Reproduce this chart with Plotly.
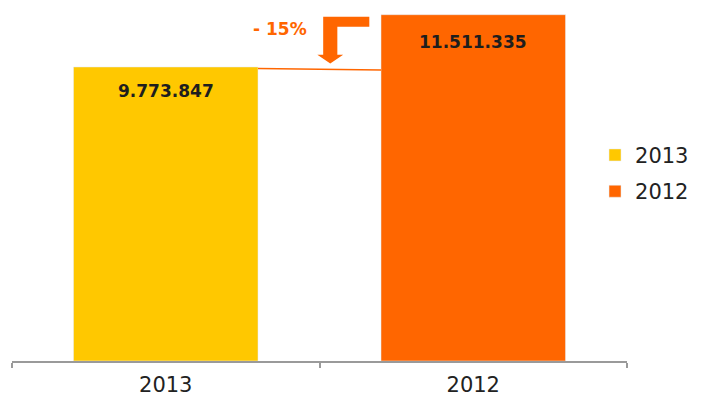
import plotly.graph_objects as go

# Sales volume by year
years = ["2013", "2012"]
values = [9773847, 11511335]
colors = ["#FFC800", "#FF6600"]

AXIS_MAX = 12.0e6
ACCENT = "#FF6600"


def fmt_dots(v):
    return f"{v:,}".replace(",", ".")


fig = go.Figure()
for yr, val, col in zip(years, values, colors):
    fig.add_trace(go.Bar(
        x=[yr], y=[val], name=yr, marker_color=col, width=0.6,
        legendgroup=yr, hoverinfo="skip",
    ))

# value labels just under the top of each bar
annotations = []
for i, (yr, val) in enumerate(zip(years, values)):
    annotations.append(dict(
        x=i, y=val, xref="x", yref="y", text=fmt_dots(val),
        showarrow=False, yshift=-24 if i == 0 else -27, yanchor="middle",
        font=dict(family="DejaVu Sans", size=17, color="#1E1E1E",
                  weight="bold"),
    ))

# percent change 2012 -> 2013
change = (values[0] - values[1]) / values[1] * 100
annotations.append(dict(
    x=0.370, y=values[1] * 0.958, xref="x", yref="y",
    text=f"- {abs(change):.0f}%", showarrow=False,
    font=dict(family="DejaVu Sans", size=17, color=ACCENT, weight="bold"),
))

# bent arrow pointing down between the bars
top = values[1]
ya, yb, yc, yd = top * 0.994, top * 0.965, top * 0.884, top * 0.859
xs = dict(l=0.512, r=0.558, e=0.662, hl=0.493, hr=0.577, t=0.535)
arrow_path = (
    f"M {xs['e']} {ya} L {xs['l']} {ya} L {xs['l']} {yc} L {xs['hl']} {yc} "
    f"L {xs['t']} {yd} L {xs['hr']} {yc} L {xs['r']} {yc} L {xs['r']} {yb} "
    f"L {xs['e']} {yb} Z"
)
shapes = [
    dict(type="line", xref="x", yref="y", x0=0.3, x1=0.7,
         y0=values[0] * 0.995, y1=values[0] * 0.99,
         line=dict(color=ACCENT, width=1.5)),
    dict(type="path", xref="x", yref="y", path=arrow_path,
         fillcolor=ACCENT, line=dict(width=0)),
]

fig.update_layout(
    width=706, height=399,
    margin=dict(l=12, r=79, t=0, b=38),
    paper_bgcolor="white", plot_bgcolor="white",
    barmode="overlay",
    showlegend=True,
    legend=dict(
        x=0.948, y=0.52, xanchor="left", yanchor="middle",
        font=dict(family="DejaVu Sans", size=21, color="#222222"),
        traceorder="grouped", tracegroupgap=6,
        bgcolor="rgba(0,0,0,0)",
    ),
    xaxis=dict(
        showline=True, linecolor="#9A9A9A", linewidth=1.5,
        ticks="outside", tickson="boundaries", ticklen=5,
        tickcolor="#9A9A9A", tickwidth=1.5, ticklabelstandoff=4,
        tickfont=dict(family="DejaVu Sans", size=21, color="#222222"),
        showgrid=False, zeroline=False,
    ),
    yaxis=dict(range=[0, AXIS_MAX], visible=False, showgrid=False),
    annotations=annotations,
    shapes=shapes,
)

fig.write_html("out.html")
